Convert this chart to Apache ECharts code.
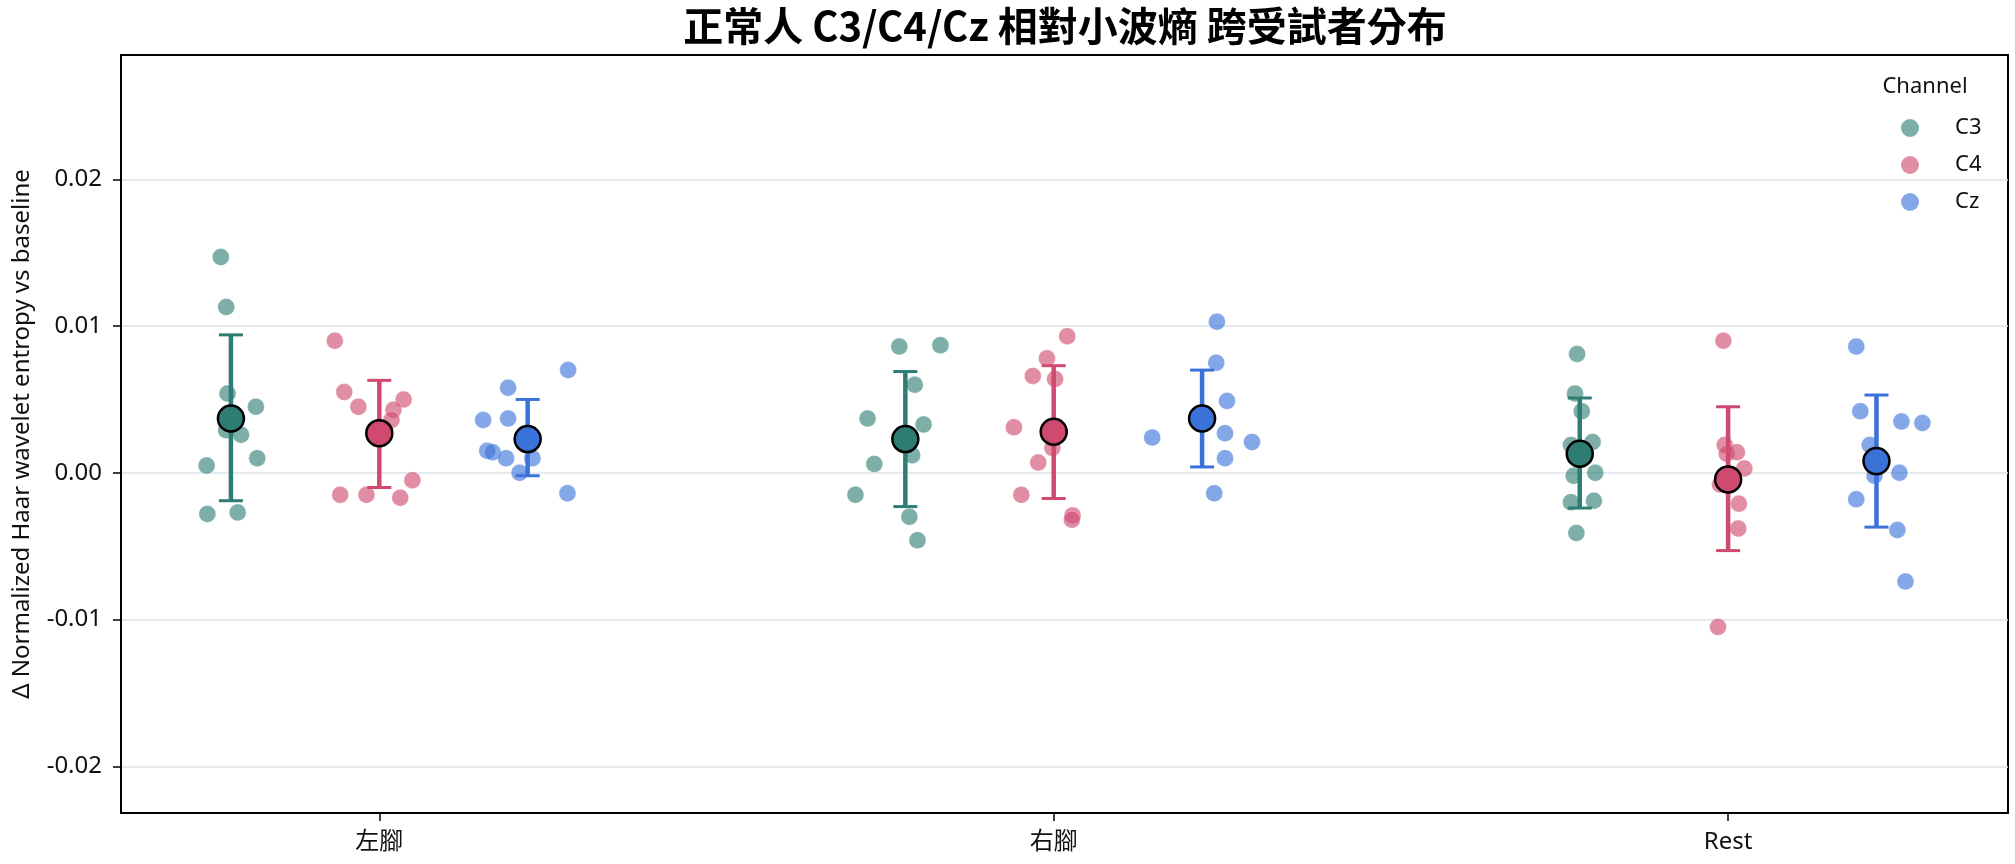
<!DOCTYPE html>
<html>
<head>
<meta charset="utf-8">
<title>正常人 C3/C4/Cz 相對小波熵 跨受試者分布</title>
<script src="https://cdn.jsdelivr.net/npm/echarts@6/dist/echarts.min.js"></script>
<style>
    html, body { margin: 0; padding: 0; background: #fff; }
    #main { width: 2015px; height: 864px; }
</style>
</head>
<body>
<div id="main"></div>
<script>
/**************** 数据 ****************/
var groups = ['左腳', '右腳', 'Rest'];
var channels = ['C3', 'C4', 'Cz'];
var yTicks = [-0.02, -0.01, 0, 0.01, 0.02];

// 每个受试者的数值（每组一个数组）
var c3Values = [
    [0.0147, 0.0113, 0.0054, 0.0045, 0.0029, 0.0026, 0.0010, 0.0005, -0.0028, -0.0027],
    [0.0086, 0.0087, 0.0060, 0.0037, 0.0033, 0.0012, 0.0006, -0.0015, -0.0030, -0.0046],
    [0.0081, 0.0054, 0.0042, 0.0021, 0.0019, -0.0002, 0.0000, -0.0020, -0.0019, -0.0041]
];
var c4Values = [
    [0.0090, 0.0055, 0.0045, 0.0050, 0.0043, 0.0036, -0.0005, -0.0015, -0.0015, -0.0017],
    [0.0093, 0.0078, 0.0066, 0.0064, 0.0031, 0.0017, 0.0007, -0.0015, -0.0029, -0.0032],
    [0.0090, 0.0019, 0.0013, 0.0014, 0.0003, -0.0008, -0.0021, -0.0038, -0.0105]
];
var czValues = [
    [0.0070, 0.0058, 0.0036, 0.0037, 0.0015, 0.0014, 0.0010, 0.0010, 0.0000, -0.0014],
    [0.0103, 0.0075, 0.0049, 0.0027, 0.0024, 0.0021, 0.0010, -0.0014],
    [0.0086, 0.0042, 0.0035, 0.0034, 0.0019, -0.0002, 0.0000, -0.0018, -0.0039, -0.0074]
];

// 抖动（stripplot 的水平偏移，单位为类别宽度）
var c3Jitter = [
    [-0.015, -0.007, -0.005, 0.037, -0.007, 0.015, 0.039, -0.036, -0.035, 0.010],
    [-0.009, 0.052, 0.014, -0.056, 0.027, 0.010, -0.046, -0.074, 0.006, 0.018],
    [-0.004, -0.007, 0.003, 0.019, -0.013, -0.009, 0.023, -0.013, 0.021, -0.005]
];
var c4Jitter = [
    [-0.066, -0.052, -0.031, 0.036, 0.021, 0.018, 0.049, -0.058, -0.019, 0.031],
    [0.020, -0.010, -0.031, 0.002, -0.059, -0.002, -0.023, -0.048, 0.028, 0.027],
    [-0.007, -0.005, -0.002, 0.013, 0.024, -0.012, 0.016, 0.015, -0.015]
];
var czJitter = [
    [0.060, -0.029, -0.066, -0.029, -0.060, -0.052, -0.032, 0.007, -0.012, 0.059],
    [0.022, 0.021, 0.037, 0.034, -0.074, 0.074, 0.034, 0.018],
    [-0.030, -0.024, 0.037, 0.068, -0.010, -0.003, 0.034, -0.030, 0.031, 0.043]
];

// 平均值与 95% CI
var c3Mean = [0.0037, 0.0023, 0.0013];
var c3CiLow = [-0.0019, -0.0023, -0.0024];
var c3CiHigh = [0.0094, 0.0069, 0.0051];
var c4Mean = [0.0027, 0.0028, -0.00045];
var c4CiLow = [-0.0010, -0.00175, -0.0053];
var c4CiHigh = [0.0063, 0.0073, 0.0045];
var czMean = [0.0023, 0.0037, 0.0008];
var czCiLow = [-0.0002, 0.0004, -0.0037];
var czCiHigh = [0.0050, 0.0070, 0.0053];

/**************** 样式 ****************/
var dodge = [-0.22, 0, 0.22];
var solidColors = ['#2e7d74', '#cf4a6e', '#3a72d9'];
var pointColors = ['rgba(46,125,116,0.78)', 'rgba(207,74,110,0.78)', 'rgba(58,114,217,0.78)'];
var fontFamily = '"Noto Sans", "Noto Sans CJK TC", sans-serif';

var allValues = [c3Values, c4Values, czValues];
var allJitter = [c3Jitter, c4Jitter, czJitter];
var allMean = [c3Mean, c4Mean, czMean];
var allLow = [c3CiLow, c4CiLow, czCiLow];
var allHigh = [c3CiHigh, c4CiHigh, czCiHigh];

function stripData(ci) {
    var out = [];
    for (var g = 0; g < groups.length; g++) {
        var vals = allValues[ci][g];
        for (var i = 0; i < vals.length; i++) {
            out.push([g + dodge[ci] + allJitter[ci][g][i], vals[i]]);
        }
    }
    return out;
}

function errData(ci) {
    var out = [];
    for (var g = 0; g < groups.length; g++) {
        out.push([g + dodge[ci], allLow[ci][g], allHigh[ci][g]]);
    }
    return out;
}

function meanData(ci) {
    var out = [];
    for (var g = 0; g < groups.length; g++) {
        out.push([g + dodge[ci], allMean[ci][g]]);
    }
    return out;
}

function errRender(color) {
    return function (params, api) {
        var x = api.value(0);
        var lo = api.coord([x, api.value(1)]);
        var hi = api.coord([x, api.value(2)]);
        var cap = 12;
        return {
            type: 'group',
            children: [
                { type: 'line', shape: { x1: lo[0], y1: lo[1], x2: hi[0], y2: hi[1] }, style: { stroke: color, lineWidth: 4.5 } },
                { type: 'line', shape: { x1: lo[0] - cap, y1: lo[1], x2: lo[0] + cap, y2: lo[1] }, style: { stroke: color, lineWidth: 3 } },
                { type: 'line', shape: { x1: hi[0] - cap, y1: hi[1], x2: hi[0] + cap, y2: hi[1] }, style: { stroke: color, lineWidth: 3 } }
            ]
        };
    };
}

var series = [];
// 散点
for (var c = 0; c < channels.length; c++) {
    series.push({
        name: channels[c],
        type: 'scatter',
        symbolSize: 17,
        data: stripData(c),
        itemStyle: { color: pointColors[c], borderColor: 'rgba(255,255,255,0.6)', borderWidth: 0.6 },
        z: 2
    });
}
// 误差线
for (var c = 0; c < channels.length; c++) {
    series.push({
        name: channels[c] + ' CI',
        type: 'custom',
        renderItem: errRender(solidColors[c]),
        encode: { x: 0, y: [1, 2] },
        data: errData(c),
        z: 3
    });
}
// 平均值
for (var c = 0; c < channels.length; c++) {
    series.push({
        name: channels[c] + ' mean',
        type: 'scatter',
        symbolSize: 26,
        data: meanData(c),
        itemStyle: { color: solidColors[c], borderColor: '#000', borderWidth: 2.5, opacity: 1 },
        z: 4
    });
}

var myChart = echarts.init(document.getElementById('main'));
var option = {
    animation: false,
    backgroundColor: '#fff',
    graphic: [
        {
            type: 'text', x: 1065, y: 26,
            style: { text: '正常人 C3/C4/Cz 相對小波熵 跨受試者分布', fill: '#000', align: 'center', verticalAlign: 'middle',
                font: 'bold 40px "Noto Sans CJK TC", "Noto Sans", sans-serif' }
        },
        {
            type: 'text', x: 1925, y: 87,
            style: { text: 'Channel', fill: '#111', align: 'center', verticalAlign: 'middle', font: '22px ' + fontFamily }
        }
    ],
    legend: {
        data: channels,
        orient: 'vertical',
        left: 1896,
        top: 111,
        itemWidth: 18,
        itemHeight: 18,
        itemGap: 13,
        icon: 'circle',
        itemStyle: { borderWidth: 0 },
        textStyle: { fontSize: 22, fontFamily: fontFamily, color: '#111', lineHeight: 24, padding: [0, 0, 0, 31] }
    },
    grid: {
        left: 121, right: 7, top: 55, bottom: 51,
        show: true, borderColor: '#000', borderWidth: 2
    },
    xAxis: {
        type: 'value',
        min: -0.383,
        max: 2.415,
        axisLine: { onZero: false, lineStyle: { color: '#000', width: 2 } },
        axisTick: { customValues: [0, 1, 2], length: 8, lineStyle: { color: '#000', width: 1.5 } },
        axisLabel: {
            customValues: [0, 1, 2],
            margin: 17,
            fontSize: 24, fontFamily: fontFamily, color: '#111',
            formatter: function (v) { return groups[Math.round(v)]; }
        },
        splitLine: { show: false }
    },
    yAxis: {
        type: 'value',
        min: -0.02318,
        max: 0.02847,
        name: 'Δ Normalized Haar wavelet entropy vs baseline',
        nameLocation: 'middle',
        nameGap: 87,
        nameTextStyle: { fontSize: 24, fontFamily: fontFamily, color: '#111' },
        axisLine: { show: true, onZero: false, lineStyle: { color: '#000', width: 2 } },
        axisTick: { show: true, customValues: yTicks, length: 8, lineStyle: { color: '#000', width: 1.5 } },
        axisLabel: {
            customValues: yTicks,
            margin: 19,
            fontSize: 24, fontFamily: fontFamily, color: '#111',
            formatter: function (v) { return v.toFixed(2); }
        },
        splitLine: { show: true, lineStyle: { color: '#dbe3eb', width: 1.5 } }
    },
    series: series
};
myChart.setOption(option);
</script>
</body>
</html>
